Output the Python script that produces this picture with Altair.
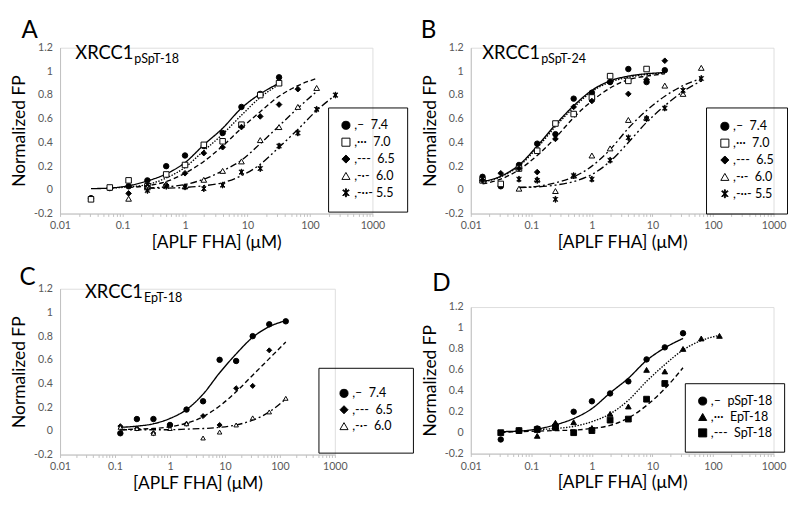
import math
import altair as alt
import pandas as pd

FONT = "Lato"
AXIS_GREY = "#BFBFBF"
LABEL_GREY = "#595959"

# ---------------- Panel A : XRCC1 pSpT-18 ----------------
A_x = [0.03125, 0.0625, 0.125, 0.25, 0.5, 1, 2, 4, 8, 16, 32, 64, 128, 256]
A_obs_74 = [-0.07, 0.015, 0.03, 0.08, 0.20, 0.29, 0.37, 0.48, 0.70, 0.81, 0.95, None, None, None]
A_obs_70 = [-0.08, 0.02, 0.08, 0.03, 0.13, 0.21, 0.38, 0.41, 0.55, 0.80, 0.90, None, None, None]
A_obs_65 = [None, None, -0.03, 0.03, 0.04, 0.14, 0.31, 0.36, 0.53, 0.62, 0.72, 0.85, None, None]
A_obs_60 = [None, None, -0.075, 0.02, 0.05, 0.03, 0.085, 0.16, 0.24, 0.42, 0.53, 0.70, 0.86, None]
A_obs_55 = [None, None, None, -0.005, 0.03, 0.025, 0.01, 0.04, 0.15, 0.18, 0.37, 0.48, 0.68, 0.80]
A_fit_74 = [0.01, 0.015, 0.035, 0.075, 0.135, 0.23, 0.38, 0.52, 0.69, 0.81, 0.90, None, None, None]
A_fit_70 = [None, 0.015, 0.025, 0.045, 0.10, 0.19, 0.33, 0.47, 0.63, 0.78, 0.89, None, None, None]
A_fit_65 = [None, None, 0.02, 0.035, 0.07, 0.14, 0.24, 0.37, 0.52, 0.66, 0.79, 0.88, 0.94, None]
A_fit_60 = [None, None, None, 0.015, 0.025, 0.045, 0.09, 0.16, 0.25, 0.39, 0.54, 0.69, 0.83, None]
A_fit_55 = [None, None, None, 0.015, 0.015, 0.02, 0.035, 0.06, 0.12, 0.215, 0.36, 0.51, 0.67, 0.80]

# ---------------- Panel B : XRCC1 pSpT-24 ----------------
B_x = [0.015625, 0.03125, 0.0625, 0.125, 0.25, 0.5, 1, 2, 4, 8, 16, 32, 64]
B_obs_74 = [0.11, 0.03, 0.21, 0.39, 0.47, 0.77, 0.82, 0.91, 1.02, 0.91, 1.01, None, None]
B_obs_70 = [0.08, 0.05, 0.18, 0.33, 0.56, 0.64, 0.78, 0.96, 0.92, 1.02, None, None, None]
B_obs_65 = [0.08, 0.14, 0.18, 0.15, 0.43, 0.70, 0.75, 0.91, 0.81, 0.93, 1.09, None, None]
B_obs_60 = [None, None, 0.01, 0.09, -0.01, 0.12, 0.29, 0.35, 0.59, 0.61, 0.88, 0.81, 1.03]
B_obs_55 = [None, None, 0.09, 0.08, -0.08, 0.12, 0.09, 0.25, 0.44, 0.60, 0.69, 0.84, 0.94]
B_fit_74 = [0.07, 0.115, 0.21, 0.37, 0.55, 0.71, 0.84, 0.92, 0.96, 0.98, 0.99, None, None]
B_fit_70 = [0.065, 0.11, 0.20, 0.355, 0.535, 0.695, 0.83, 0.91, 0.95, 0.975, 0.985, None, None]
B_fit_65 = [0.05, 0.09, 0.17, 0.29, 0.44, 0.61, 0.75, 0.86, 0.93, 0.96, 0.98, None, None]
B_fit_60 = [None, None, 0.02, 0.03, 0.06, 0.11, 0.20, 0.34, 0.52, 0.67, 0.79, 0.88, 0.94]
B_fit_55 = [None, None, 0.02, 0.025, 0.04, 0.07, 0.13, 0.24, 0.40, 0.57, 0.71, 0.83, 0.92]

# ---------------- Panel C : XRCC1 EpT-18 ----------------
C_x = [0.125, 0.25, 0.5, 1, 2, 4, 8, 16, 32, 64, 128]
C_obs_74 = [-0.02, 0.10, 0.10, 0.05, 0.18, 0.25, 0.60, 0.59, 0.80, 0.90, 0.925]
C_obs_65 = [0.04, 0.02, -0.02, 0.05, 0.06, 0.125, 0.05, 0.36, 0.38, 0.68, None]
C_obs_60 = [0.03, 0.02, -0.02, 0.02, 0.06, -0.06, -0.01, 0.05, 0.11, 0.16, 0.275]
C_fit_74 = [0.03, 0.04, 0.06, 0.105, 0.18, 0.31, 0.49, 0.65, 0.79, 0.88, 0.93]
C_fit_65 = [0.01, 0.015, 0.02, 0.035, 0.065, 0.12, 0.21, 0.33, 0.47, 0.61, 0.75]
C_fit_60 = [0.01, 0.01, 0.01, 0.01, 0.015, 0.02, 0.03, 0.05, 0.09, 0.16, 0.27]

# ---------------- Panel D : peptide comparison at pH 7.4 ----------------
D_x = [0.03125, 0.0625, 0.125, 0.25, 0.5, 1, 2, 4, 8, 16, 32, 64, 128]
D_obs_pSpT = [-0.065, 0.02, 0.04, 0.07, 0.20, 0.30, 0.375, 0.49, 0.70, 0.815, 0.95, None, None]
D_obs_EpT = [None, None, -0.03, 0.095, 0.10, 0.045, 0.18, 0.25, 0.60, 0.585, 0.80, 0.90, 0.925]
D_obs_SpT = [0.0, 0.02, 0.03, 0.05, 0.0, 0.02, 0.12, 0.13, 0.32, 0.47, None, None, None]
D_fit_pSpT = [0.01, 0.015, 0.035, 0.075, 0.135, 0.23, 0.38, 0.52, 0.69, 0.81, 0.90, None, None]
D_fit_EpT = [None, None, 0.03, 0.04, 0.06, 0.105, 0.18, 0.31, 0.49, 0.65, 0.79, 0.88, 0.93]
D_fit_SpT = [0.0, 0.01, 0.015, 0.02, 0.025, 0.04, 0.07, 0.14, 0.26, 0.42, 0.62, None, None]

# ---------------- labels / styles ----------------
NB = "\u00a0"
PH_LABELS = [",–" + NB * 2 + "7.4", ",···" + NB * 2 + "7.0", ",---" + NB * 2 + "6.5",
             ",-·-" + NB * 2 + "6.0", ",-··-" + NB + "5.5"]
C_LABELS = [PH_LABELS[0], PH_LABELS[2], PH_LABELS[3]]
D_LABELS = [",–" + NB * 2 + "pSpT-18", ",···" + NB * 2 + "EpT-18", ",---" + NB * 2 + "SpT-18"]


def _asterisk_path(half_width=0.12):
    parts = []
    for ang in (90, 45, -45):
        a = math.radians(ang)
        dx, dy = math.cos(a), math.sin(a)
        nx, ny = -dy * half_width, dx * half_width
        pts = [(dx + nx, dy + ny), (dx - nx, dy - ny), (-dx - nx, -dy - ny), (-dx + nx, -dy + ny)]
        parts.append("M" + "L".join(f"{px:.3f},{py:.3f}" for px, py in pts) + "Z")
    return "".join(parts)


ASTERISK = _asterisk_path()
SOLID, DOTTED, DASHED, DASHDOT, DASHDOTDOT = [1, 0], [1.5, 1.5], [5, 3], [7, 3, 2, 3], [8, 3, 2, 3, 2, 3]

X_DECADES = [0.01, 0.1, 1, 10, 100, 1000]
X_MINOR = [2, 3, 4, 5, 6, 7, 8, 9]
X_TICKS = sorted(X_DECADES + [d * m for d in X_DECADES[:-1] for m in X_MINOR])
Y_TICKS = [-0.2, 0, 0.2, 0.4, 0.6, 0.8, 1, 1.2]


def long_rows(x, series, labels):
    rows = []
    for lab, ys in zip(labels, series):
        for xv, yv in zip(x, ys):
            if yv is not None:
                rows.append({"x": xv, "y": yv, "s": lab, "d": "line " + lab, "z": "size " + lab})
    return pd.DataFrame(rows)


def panel(x, obs, fits, labels, shapes, fills, sizes, dashes, w, h, leg,
          letter, letter_xy, t_main, t_sub, t_xy):
    obs_df = long_rows(x, obs, labels)
    fit_df = long_rows(x, fits, labels)
    x_axis = alt.Axis(values=X_TICKS,
                      labelExpr="indexof([0.01,0.1,1,10,100,1000], datum.value) >= 0 ? format(datum.value, '~g') : ''",
                      labelOverlap=False, labelFlush=False, grid=False,
                      tickSize=3, tickColor=AXIS_GREY, domainColor=AXIS_GREY,
                      labelColor=LABEL_GREY, labelFont=FONT, labelFontSize=11, labelPadding=4,
                      title="[APLF FHA] (μM)", titleFont=FONT, titleFontSize=18,
                      titleFontWeight="normal", titleColor="black", titlePadding=3)
    y_axis = alt.Axis(values=Y_TICKS,
                      labelExpr="datum.value < 0 ? '-' + format(-datum.value, '~g') : format(datum.value, '~g')",
                      ticks=False, grid=False, domainColor=AXIS_GREY,
                      labelColor=LABEL_GREY, labelFont=FONT, labelFontSize=11, labelPadding=8,
                      title="Normalized FP", titleFont=FONT, titleFontSize=18,
                      titleFontWeight="normal", titleColor="black", titlePadding=5)
    xs = alt.X("x:Q", scale=alt.Scale(type="log", domain=[0.01, 1000], nice=False), axis=x_axis)
    ys = alt.Y("y:Q", scale=alt.Scale(domain=[-0.2, 1.2], nice=False, zero=False), axis=y_axis)

    lines = alt.Chart(fit_df).mark_line(interpolate="monotone", color="black", strokeWidth=1.4).encode(
        x=xs, y=ys,
        strokeDash=alt.StrokeDash("d:N", scale=alt.Scale(domain=["line " + l for l in labels], range=dashes),
                                  legend=None),
    )
    legend = alt.Legend(title=None, orient="none", legendX=leg[0], legendY=leg[1],
                        padding=leg[2], rowPadding=leg[3], strokeColor="black",
                        labelFont=FONT, labelFontSize=13, labelColor="black", labelOffset=2,
                        symbolSize=70, symbolStrokeWidth=1)
    pts = alt.Chart(obs_df).mark_point(filled=True, strokeWidth=1, opacity=1).encode(
        x=xs, y=ys,
        shape=alt.Shape("s:N", scale=alt.Scale(domain=labels, range=shapes), legend=legend),
        fill=alt.Fill("s:N", scale=alt.Scale(domain=labels, range=fills), legend=legend),
        stroke=alt.Stroke("s:N", scale=alt.Scale(domain=labels, range=["black"] * len(labels)), legend=legend),
        size=alt.Size("z:N", scale=alt.Scale(domain=["size " + l for l in labels], range=sizes), legend=None),
    )
    layers = [lines, pts]
    letter_df = pd.DataFrame({"t": [letter]})
    layers.append(alt.Chart(letter_df).mark_text(align="left", baseline="top", font=FONT,
                                                 fontSize=25, color="black").encode(
        x=alt.value(letter_xy[0]), y=alt.value(letter_xy[1]), text="t:N"))
    if t_main:
        main_df = pd.DataFrame({"t": [t_main]})
        sub_df = pd.DataFrame({"t": [t_sub]})
        layers.append(alt.Chart(main_df).mark_text(align="right", baseline="alphabetic", font=FONT,
                                                   fontSize=19, color="black").encode(
            x=alt.value(t_xy[0]), y=alt.value(t_xy[1]), text="t:N"))
        layers.append(alt.Chart(sub_df).mark_text(align="left", baseline="alphabetic", font=FONT,
                                                  fontSize=13, color="black").encode(
            x=alt.value(t_xy[0] + 1), y=alt.value(t_xy[1] + 4), text="t:N"))
    return alt.layer(*layers).properties(width=w, height=h)


PH_SHAPES = ["circle", "square", "diamond", "triangle-up", ASTERISK]
PH_FILLS = ["black", "white", "black", "white", "black"]
PH_SIZES = [32, 36, 22, 36, 40]
PH_DASHES = [SOLID, DOTTED, DASHED, DASHDOT, DASHDOTDOT]

chart_A = panel(A_x, [A_obs_74, A_obs_70, A_obs_65, A_obs_60, A_obs_55],
                [A_fit_74, A_fit_70, A_fit_65, A_fit_60, A_fit_55],
                PH_LABELS, PH_SHAPES, PH_FILLS, PH_SIZES, PH_DASHES, 324, 172,
                (278, 62, 12, 3.5), "A", (-40, -30), "XRCC1", "pSpT-18", (76, 12))
chart_B = panel(B_x, [B_obs_74, B_obs_70, B_obs_65, B_obs_60, B_obs_55],
                [B_fit_74, B_fit_70, B_fit_65, B_fit_60, B_fit_55],
                PH_LABELS, PH_SHAPES, PH_FILLS, PH_SIZES, PH_DASHES, 314, 172,
                (244, 62, 13, 3.5), "B", (-52, -30), "XRCC1", "pSpT-24", (72, 12))
chart_C = panel(C_x, [C_obs_74, C_obs_65, C_obs_60], [C_fit_74, C_fit_65, C_fit_60],
                C_LABELS, ["circle", "diamond", "triangle-up"], ["black", "black", "white"],
                [32, 22, 36], [SOLID, DASHED, DASHDOT], 285, 172,
                (268, 82, 20, 3), "C", (-42, -24), "XRCC1", "EpT-18", (86, 10))
chart_D = panel(D_x, [D_obs_pSpT, D_obs_EpT, D_obs_SpT], [D_fit_pSpT, D_fit_EpT, D_fit_SpT],
                D_LABELS, ["circle", "triangle-up", "square"], ["black", "black", "black"],
                [32, 36, 30], [SOLID, DOTTED, DASHED], 314, 152,
                (222, 79, 12, 2.5), "D", (-40, -37), None, None, None)

IND = dict(shape="independent", fill="independent", stroke="independent",
           size="independent", strokeDash="independent")
LIND = dict(shape="independent", fill="independent", stroke="independent")

col1 = alt.vconcat(chart_A, chart_C, spacing=78, bounds="flush").resolve_scale(**IND).resolve_legend(**LIND)
col2 = alt.vconcat(chart_B, chart_D, spacing=97, bounds="flush").resolve_scale(**IND).resolve_legend(**LIND)

chart = alt.hconcat(col1, col2, spacing=6).resolve_scale(**IND).resolve_legend(**LIND).properties(
    padding={"left": 3, "top": 1, "right": 0, "bottom": 0}
).configure_view(stroke=None).configure(background="white")

chart.save("out.html", embed_options={"renderer": "svg", "actions": False})
